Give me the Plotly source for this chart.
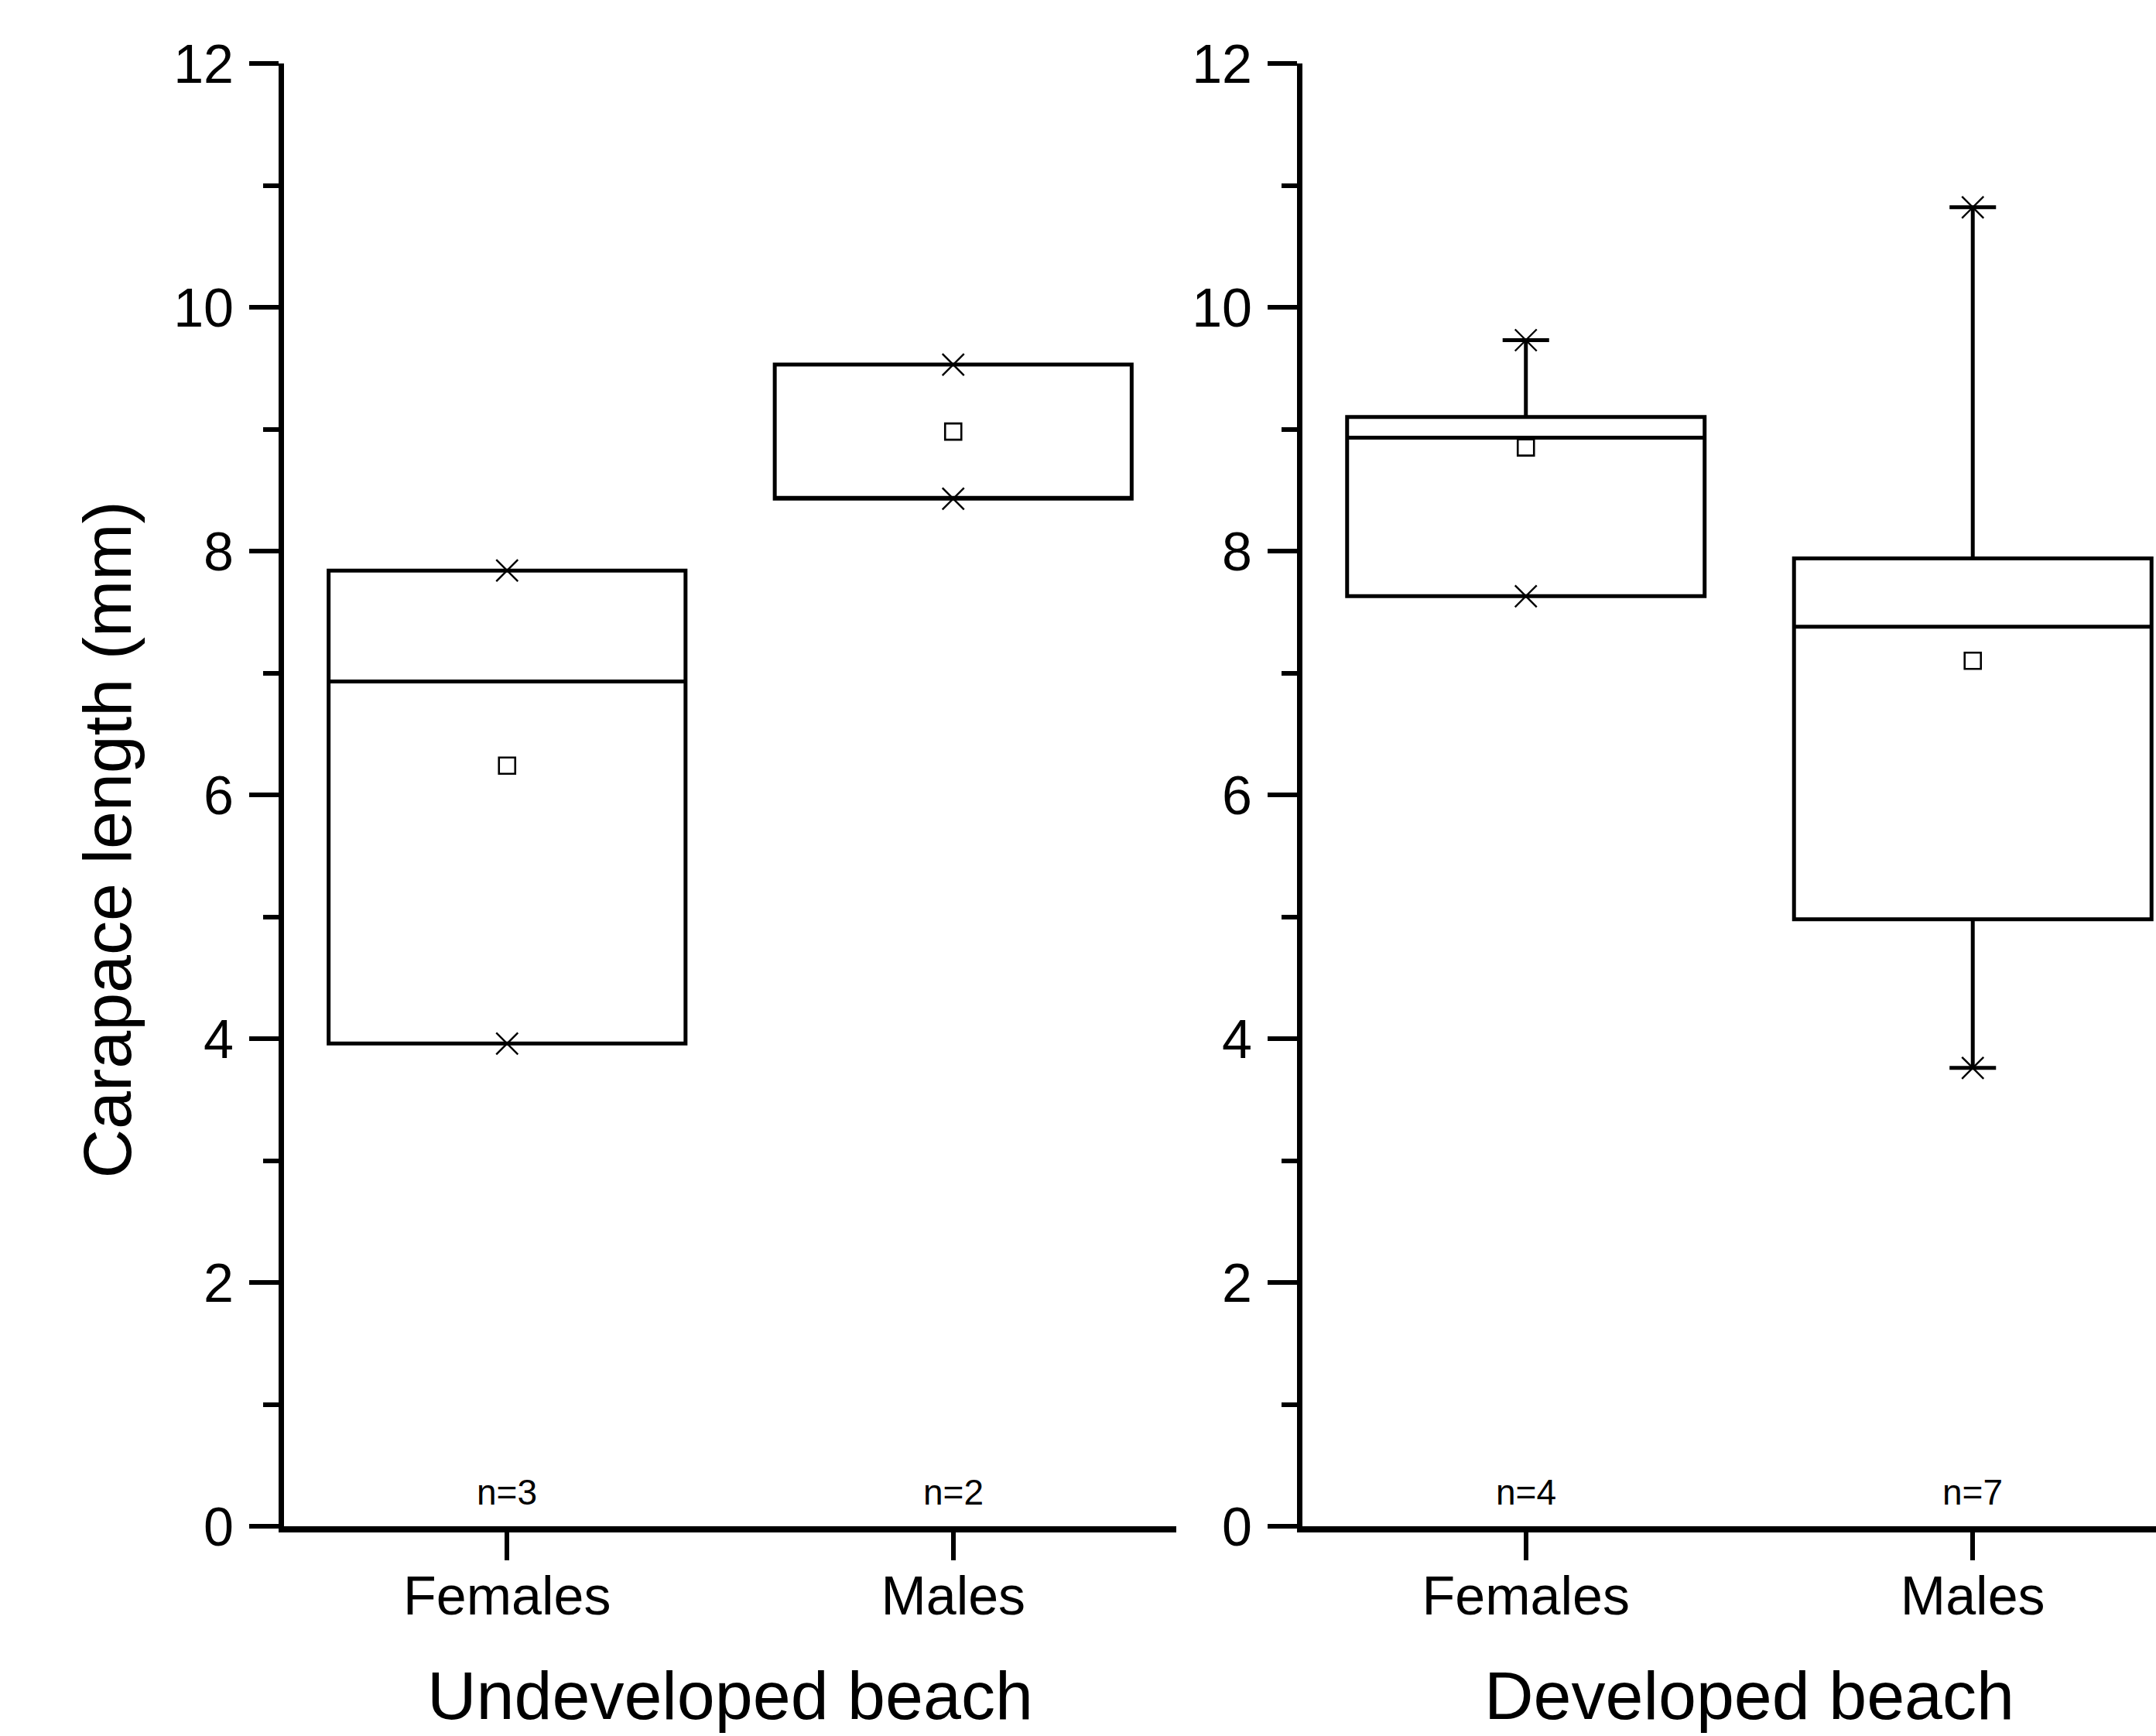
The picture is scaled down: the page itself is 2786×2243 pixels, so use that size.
import plotly.graph_objects as go

# ---- data ----
categories = ["Females", "Males"]
cat_pos = [0, 1]

# Undeveloped beach
und_q1 = [3.96, 8.43]
und_median = [6.93, 8.43]   # Males: no separate median line visible
und_q3 = [7.84, 9.53]
und_lower = [3.96, 8.43]
und_upper = [7.84, 9.53]
und_mean = [6.24, 8.98]
und_min = [3.96, 8.43]
und_max = [7.84, 9.53]
und_n = ["n=3", "n=2"]

# Developed beach
dev_q1 = [7.63, 4.98]
dev_median = [8.93, 7.38]
dev_q3 = [9.10, 7.94]
dev_lower = [7.63, 3.76]
dev_upper = [9.73, 10.82]
dev_mean = [8.85, 7.10]
dev_min = [7.63, 3.76]
dev_max = [9.73, 10.82]
dev_n = ["n=4", "n=7"]

y_ticks = [0, 2, 4, 6, 8, 10, 12]

FONT = "Liberation Sans, Arial, Helvetica, sans-serif"
W, H = 2786, 2243

fig = go.Figure()


def add_panel(xa, ya, q1, med, q3, lo, up, mean, mn, mx):
    fig.add_trace(go.Box(
        x=cat_pos, q1=q1, median=med, q3=q3, lowerfence=lo, upperfence=up,
        width=0.8, whiskerwidth=0.13, boxpoints=False,
        line=dict(color="black", width=5), fillcolor="rgba(0,0,0,0)",
        xaxis=xa, yaxis=ya, hoverinfo="skip", showlegend=False))
    fig.add_trace(go.Scatter(
        x=cat_pos + cat_pos, y=mn + mx, mode="markers",
        marker=dict(symbol="x-thin", size=28, color="black",
                    line=dict(color="black", width=2.4)),
        xaxis=xa, yaxis=ya, hoverinfo="skip", showlegend=False))
    fig.add_trace(go.Scatter(
        x=cat_pos, y=mean, mode="markers",
        marker=dict(symbol="square-open", size=21, color="black",
                    line=dict(color="black", width=2.6)),
        xaxis=xa, yaxis=ya, hoverinfo="skip", showlegend=False))


add_panel("x", "y", und_q1, und_median, und_q3, und_lower, und_upper,
          und_mean, und_min, und_max)
add_panel("x2", "y2", dev_q1, dev_median, dev_q3, dev_lower, dev_upper,
          dev_mean, dev_min, dev_max)

xaxis_common = dict(
    tickvals=cat_pos, ticktext=categories, ticks="outside", ticklen=36,
    tickwidth=6, tickcolor="black", showline=True, linewidth=8,
    linecolor="black", showgrid=False, zeroline=False,
    tickfont=dict(family=FONT, size=70, color="black"),
    ticklabelstandoff=-14, fixedrange=True)
yaxis_common = dict(
    range=[0, 12], tickvals=y_ticks, ticks="outside", ticklen=38,
    tickwidth=6, tickcolor="black", showline=True, linewidth=7,
    linecolor="black", showgrid=False, zeroline=False,
    tickfont=dict(family=FONT, size=70, color="black"),
    ticklabelstandoff=6,
    minor=dict(dtick=1, ticks="outside", ticklen=20, tickwidth=6,
               tickcolor="black", showgrid=False),
    domain=[0, 1], fixedrange=True)

fig.update_layout(
    width=W, height=H,
    margin=dict(l=0, r=0, t=82, b=271),
    paper_bgcolor="white", plot_bgcolor="white",
    showlegend=False,
    font=dict(family=FONT, color="black"),
    xaxis=dict(domain=[367 / W, 1520 / W], range=[-0.5, 1.5], anchor="y",
               **xaxis_common),
    yaxis=dict(anchor="x", **yaxis_common),
    xaxis2=dict(domain=[1683 / W, 1.0], range=[-0.5, 1.41], anchor="y2",
                **xaxis_common),
    yaxis2=dict(anchor="x2", **yaxis_common),
)

annotations = []
for xa, labels in (("x", und_n), ("x2", dev_n)):
    for p, t in zip(cat_pos, labels):
        annotations.append(dict(
            x=p, y=0.28, xref=xa, yref="y" if xa == "x" else "y2",
            text=t, showarrow=False, xanchor="center", yanchor="middle",
            font=dict(family=FONT, size=46, color="black")))

annotations.append(dict(
    x=0.5, xref="x", y=-0.1155, yref="paper", text="Undeveloped beach",
    showarrow=False, xanchor="center", yanchor="middle", borderpad=0,
    font=dict(family=FONT, size=88, color="black")))
annotations.append(dict(
    x=0.5, xref="x2", y=-0.1155, yref="paper", text="Developed beach",
    showarrow=False, xanchor="center", yanchor="middle", borderpad=0,
    font=dict(family=FONT, size=88, color="black")))
annotations.append(dict(
    x=139 / W, xref="paper", y=0.469, yref="paper",
    text="Carapace length (mm)", textangle=-90, showarrow=False,
    xanchor="center", yanchor="middle",
    font=dict(family=FONT, size=88, color="black")))

fig.update_layout(annotations=annotations)

fig.write_html(
    "out.html",
    config={"displayModeBar": False},
    post_script="document.body.style.margin='0';document.body.style.padding='0';"
                "document.documentElement.style.overflow='hidden';")
